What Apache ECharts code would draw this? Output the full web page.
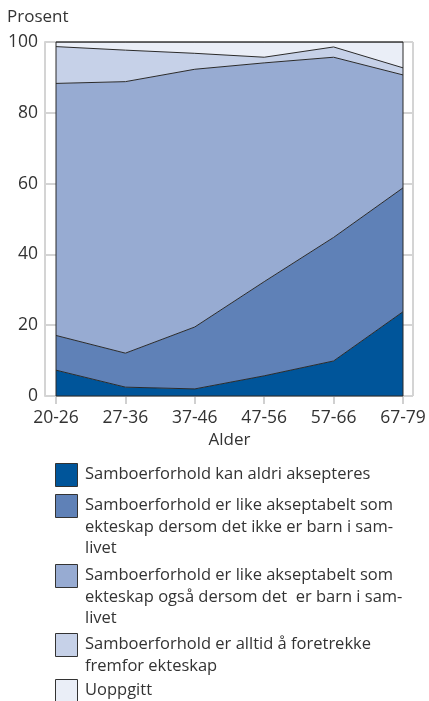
<!DOCTYPE html>
<html>
<head>
<meta charset="utf-8">
<script src="https://cdn.jsdelivr.net/npm/echarts@6/dist/echarts.min.js"></script>
<style>
  html, body { margin: 0; padding: 0; background: #fff; }
  #echarts { width: 429px; height: 701px; }
</style>
</head>
<body>
<div id="echarts"></div>
<script>
var myChart = echarts.init(document.getElementById('echarts'));

// aldersgrupper
var ages = ['20-26', '27-36', '37-46', '47-56', '57-66', '67-79'];
// prosent per svarkategori (stables)
var aldri = [7.3, 2.5, 2.0, 5.7, 9.9, 23.8];
var ikkeBarn = [9.8, 9.6, 17.5, 26.6, 34.9, 35.0];
var ogsaBarn = [71.2, 76.7, 72.8, 61.8, 50.9, 31.9];
var foretrekke = [10.4, 8.9, 4.5, 1.6, 2.9, 2.0];
var uoppgitt = [1.3, 2.3, 3.2, 4.3, 1.4, 7.3];
var yTicks = [0, 20, 40, 60, 80, 100];

var names = [
    'Samboerforhold kan aldri aksepteres',
    'Samboerforhold er like akseptabelt som\nekteskap dersom det ikke er barn i sam-\nlivet',
    'Samboerforhold er like akseptabelt som\nekteskap også dersom det  er barn i sam-\nlivet',
    'Samboerforhold er alltid å foretrekke\nfremfor ekteskap',
    'Uoppgitt'
];
var colors = ['#00559a', '#5f81b7', '#97abd2', '#c6d1e8', '#eaeef7'];
var values = [aldri, ikkeBarn, ogsaBarn, foretrekke, uoppgitt];

var font = '"Open Sans", "Noto Sans", sans-serif';

var series = values.map(function (v, i) {
    return {
        name: names[i],
        type: 'line',
        stack: 'total',
        xAxisIndex: 1,
        yAxisIndex: 1,
        data: v,
        symbol: 'none',
        lineStyle: { color: '#2a2a2a', width: 1 },
        areaStyle: { color: colors[i], opacity: 1 },
        z: 5 - i
    };
});

// legend built as graphic so the box sits by the first line
var legendTops = [463, 494, 564, 633, 679];
var graphics = [];
names.forEach(function (n, i) {
    graphics.push({
        type: 'rect',
        left: 55,
        top: legendTops[i],
        shape: { width: 22, height: 23 },
        style: { fill: colors[i], stroke: '#333', lineWidth: 1 }
    });
    graphics.push({
        type: 'text',
        left: 85,
        top: legendTops[i] + 1,
        style: {
            text: n,
            fill: '#333',
            font: '16.5px ' + font,
            lineHeight: 21.5
        }
    });
});

var option = {
    animation: false,
    textStyle: { fontFamily: font },
    grid: [
        // grå ramme bak
        { left: 45, right: 16, top: 42, bottom: 305, show: false },
        // dataområde
        { left: 56, right: 26, top: 42, bottom: 305, show: true, borderColor: '#2a2a2a', borderWidth: 1, z: 10 }
    ],
    xAxis: [
        {
            gridIndex: 0, type: 'value', min: 0, max: 1,
            axisLine: { show: false }, axisTick: { show: false },
            axisLabel: { show: false }, splitLine: { show: false }
        },
        {
            gridIndex: 1, type: 'category', data: ages, boundaryGap: false,
            name: 'Alder', nameLocation: 'middle', nameGap: 36,
            nameTextStyle: { color: '#333', fontSize: 17, fontFamily: font },
            axisLine: { show: false },
            axisTick: { show: true, length: 8, lineStyle: { color: '#d0d0d0', width: 2 } },
            axisLabel: { color: '#333', fontSize: 17.5, margin: 13, fontFamily: font },
            splitLine: { show: false }
        }
    ],
    yAxis: [
        {
            gridIndex: 0, type: 'value', min: yTicks[0], max: yTicks[yTicks.length - 1], interval: 20,
            name: 'Prosent', nameLocation: 'end', nameGap: 16,
            nameTextStyle: { color: '#333', fontSize: 17, align: 'left', padding: [0, 0, 0, -38], fontFamily: font },
            axisLine: { show: true, lineStyle: { color: '#d4d4d4', width: 2 } },
            axisTick: { show: false },
            axisLabel: { color: '#333', fontSize: 17.5, margin: 7, fontFamily: font },
            splitLine: { show: true, lineStyle: { color: '#d4d4d4', width: 2 } }
        },
        {
            gridIndex: 1, type: 'value', min: 0, max: 100,
            axisLine: { show: false }, axisTick: { show: false },
            axisLabel: { show: false }, splitLine: { show: false }
        }
    ],
    series: series.concat([{
        // høyre grå kant
        type: 'line', xAxisIndex: 0, yAxisIndex: 0, data: [],
        markLine: {
            silent: true, symbol: 'none', label: { show: false },
            lineStyle: { color: '#d4d4d4', width: 2, type: 'solid' },
            data: [{ xAxis: 1 }]
        }
    }]),
    graphic: graphics
};

myChart.setOption(option);
</script>
</body>
</html>
